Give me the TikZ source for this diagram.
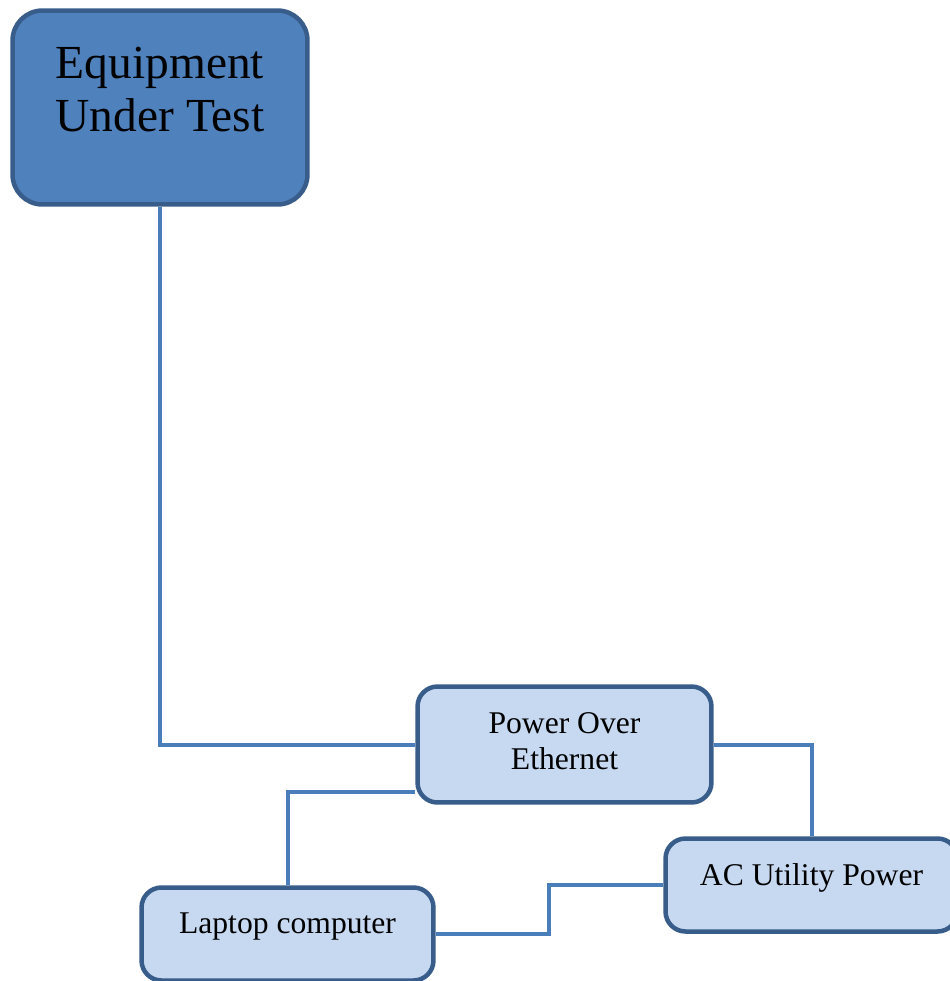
\documentclass[tikz,border=0pt]{standalone}
\usepackage{fontspec}
\setmainfont{Liberation Serif}
\usepackage{tikz}
\usetikzlibrary{positioning,calc}
\usepackage{xcolor}

\definecolor{boxline}{HTML}{385D8A}
\definecolor{darkfill}{HTML}{4F81BD}
\definecolor{lightfill}{HTML}{C6D9F1}
\definecolor{wire}{HTML}{4A7EBB}

\begin{document}
\begin{tikzpicture}[x=0.02cm, y=-0.02cm,
  unit/.style={draw=boxline, line width=0.09cm, rounded corners=0.4cm, fill=lightfill,
    minimum width=5.84cm, minimum height=1.86cm, inner sep=0pt},
  bigfont/.style={font=\fontsize{27}{30}\selectfont, align=center},
  smallfont/.style={font=\fontsize{18}{20.5}\selectfont, align=center},
  link/.style={draw=wire, line width=0.08cm}]

  \useasboundingbox (0,0) rectangle (950,981);

  % Define nodes

  \node[unit, fill=darkfill, rounded corners=0.6cm, minimum width=5.9cm, minimum height=3.88cm,
    label={[bigfont, yshift=0.36cm]center:Equipment\\Under Test}] (eut) at (160,107.5) {};
  \node[unit, minimum width=5.88cm, minimum height=2.32cm,
    label={[smallfont, yshift=0.07cm]center:Power Over\\Ethernet}] (poe) at (564.5,744.5) {};
  \node[unit, label={[smallfont, yshift=0.15cm]center:AC Utility Power}] (ac) at (811.5,885) {};
  \node[unit, label={[smallfont, yshift=0.16cm]center:Laptop computer}] (laptop) at (287.5,934) {};

  % Draw connections
  \coordinate (poelow) at ($(poe.west)+(0,47.5)$);
  \draw[link] (eut.south) |- (poe.west);
  \draw[link] (poe.east) -| (ac.north);
  \draw[link] (poelow) -| (laptop.north);
  \draw[link] (ac.west) -- ++(-114,0) |- (laptop.east);
\end{tikzpicture}
\end{document}
